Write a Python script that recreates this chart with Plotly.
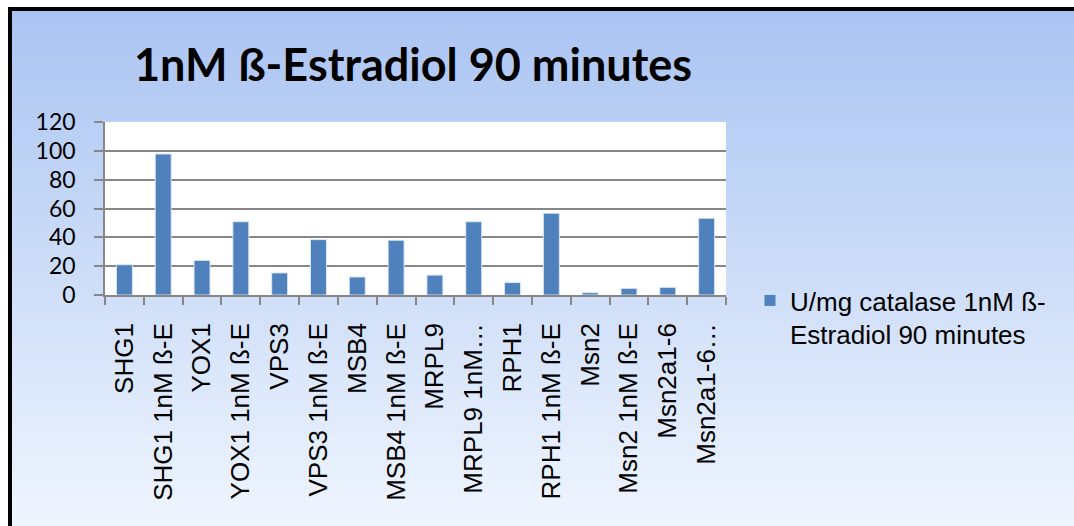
import plotly.graph_objects as go

# ---- data ----
categories = ["SHG1", "SHG1 1nM ß-E", "YOX1", "YOX1 1nM ß-E", "VPS3", "VPS3 1nM ß-E",
              "MSB4", "MSB4 1nM ß-E", "MRPL9", "MRPL9 1nM…", "RPH1", "RPH1 1nM ß-E",
              "Msn2", "Msn2 1nM ß-E", "Msn2a1-6", "Msn2a1-6…"]
values = [21, 97.8, 24, 50.8, 15.3, 38.4, 12.5, 38, 13.8, 50.8, 8.6, 56.7, 1.6, 4.6, 5.3, 53.2]
series_name = "U/mg catalase 1nM ß-<br>Estradiol 90 minutes"
title_text = "<b>1nM ß-Estradiol 90 minutes</b>"
y_tickvals = [0, 20, 40, 60, 80, 100, 120]

# ---- layout geometry (pixels) ----
W, H = 1074, 526
L, R, T, B = 105, 726, 122, 295


def px(x):
    return (x - L) / (R - L)


def py(y):
    return (B - y) / (B - T)


shapes = []
# gradient background strips
top_c = (170, 196, 242)
bot_c = (239, 245, 254)
n = 90
g0, g1 = 11, H
for i in range(n):
    ya = g0 + (g1 - g0) * i / n
    yb = g0 + (g1 - g0) * (i + 1) / n + 1
    t = (i + 0.5) / n
    c = tuple(round(top_c[k] + (bot_c[k] - top_c[k]) * t) for k in range(3))
    shapes.append(dict(type="rect", xref="paper", yref="paper",
                       x0=px(12), x1=px(W + 5), y0=py(yb), y1=py(ya),
                       fillcolor="rgb(%d,%d,%d)" % c, line=dict(width=0), layer="below"))
# white plot area
shapes.append(dict(type="rect", xref="paper", yref="paper", x0=0, x1=1, y0=0, y1=1,
                   fillcolor="white", line=dict(width=0), layer="below"))
# black outer border
shapes.append(dict(type="rect", xref="paper", yref="paper",
                   x0=px(10), x1=px(W + 20), y0=py(H + 20), y1=py(9),
                   fillcolor="rgba(0,0,0,0)", line=dict(color="black", width=4), layer="above"))

fig = go.Figure()
fig.add_trace(go.Bar(
    x=categories, y=values, name=series_name, showlegend=True,
    marker=dict(color="#4f81bd", line=dict(color="rgba(220,232,248,0.9)", width=1)),
))

grid_c = "#878787"
fig.update_layout(
    width=W, height=H, autosize=False,
    margin=dict(l=L, r=W - R, t=T, b=H - B, pad=0),
    paper_bgcolor="white", plot_bgcolor="white",
    bargap=0.59,
    shapes=shapes,
    showlegend=True,
    legend=dict(x=px(750), y=py(277), xanchor="left", yanchor="top",
                font=dict(family="Liberation Sans, Arial", size=26, color="black"),
                bgcolor="rgba(0,0,0,0)", valign="top", itemwidth=30),
    annotations=[dict(text=title_text, xref="paper", yref="paper",
                      x=px(412.5), y=py(64), xanchor="center", yanchor="middle",
                      showarrow=False,
                      font=dict(family="Lato", size=45, color="black"))],
    xaxis=dict(type="category", range=[-0.5, len(categories) - 0.5],
               showline=True, linecolor=grid_c, linewidth=1.5,
               ticks="outside", tickson="boundaries", ticklen=8, tickcolor=grid_c, tickwidth=1.5,
               tickangle=-90, ticklabelstandoff=16,
               tickfont=dict(family="Liberation Sans, Arial", size=26, color="black"),
               showgrid=False, automargin=False, fixedrange=True),
    yaxis=dict(range=[0, 120], tickvals=y_tickvals,
               showgrid=True, gridcolor=grid_c, gridwidth=1.5,
               showline=True, linecolor=grid_c, linewidth=1.5,
               ticks="outside", ticklen=9, tickcolor=grid_c, tickwidth=1.5,
               ticklabelstandoff=14, zeroline=False,
               tickfont=dict(family="Lato", size=23, color="black"),
               automargin=False, fixedrange=True),
)

fig.write_html("out.html")
